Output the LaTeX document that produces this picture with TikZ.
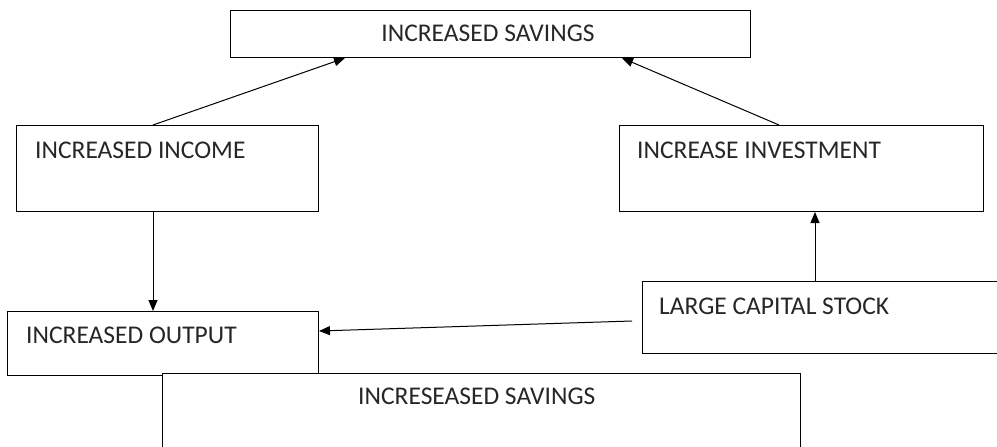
\documentclass[tikz,border=0pt]{standalone}
\usepackage{fontspec}
\setmainfont{Carlito}
\usetikzlibrary{arrows.meta}
\begin{document}
\begin{tikzpicture}[x=1pt,y=-1pt,
  box/.style={draw,line width=1pt,inner sep=0pt,anchor=north west},
  lbl/.style={inner sep=0pt,text=black!85,font=\fontsize{25.5}{28}\selectfont},
  conn/.style={line width=1pt,-{Triangle[length=11pt,width=9pt]}}]
\useasboundingbox (0,0) rectangle (997,447);
\node[box,minimum width=520pt,minimum height=47pt] (top) at (230,10) {};
\node[box,minimum width=302pt,minimum height=86pt] (inc) at (16,125) {};
\node[box,minimum width=364pt,minimum height=86pt] (inv) at (619,125) {};
\node[box,minimum width=311pt,minimum height=64pt] (out) at (7,311) {};
\node[box,minimum width=360pt,minimum height=72pt] (cap) at (642,281) {};
\node[box,fill=white,minimum width=638pt,minimum height=80pt] (bot) at (162,373) {};
\node[lbl,anchor=center] (ttop) at (488,33) {INCREASED SAVINGS};
\node[lbl,anchor=west] (tinc) at (35,150) {INCREASED INCOME};
\node[lbl,anchor=west] (tinv) at (637,150) {INCREASE INVESTMENT};
\node[lbl,anchor=west] (tout) at (26,335) {INCREASED OUTPUT};
\node[lbl,anchor=west] (tcap) at (659,306) {LARGE CAPITAL STOCK};
\node[lbl,anchor=west] (tbot) at (358,396) {INCRESEASED SAVINGS};
\draw[conn] ([xshift=137pt]inc.north west) -- ([xshift=115pt]top.south west);
\draw[conn] ([xshift=160pt]inv.north west) -- ([xshift=392pt]top.south west);
\draw[conn] ([xshift=137pt]inc.south west) -- ([xshift=146pt]out.north west);
\draw[conn] ([xshift=173pt]cap.north west) -- ([xshift=196pt]inv.south west);
\draw[conn] ([xshift=-10pt,yshift=-40pt]cap.north west) -- ([yshift=-20pt]out.north east);
\end{tikzpicture}
\end{document}
